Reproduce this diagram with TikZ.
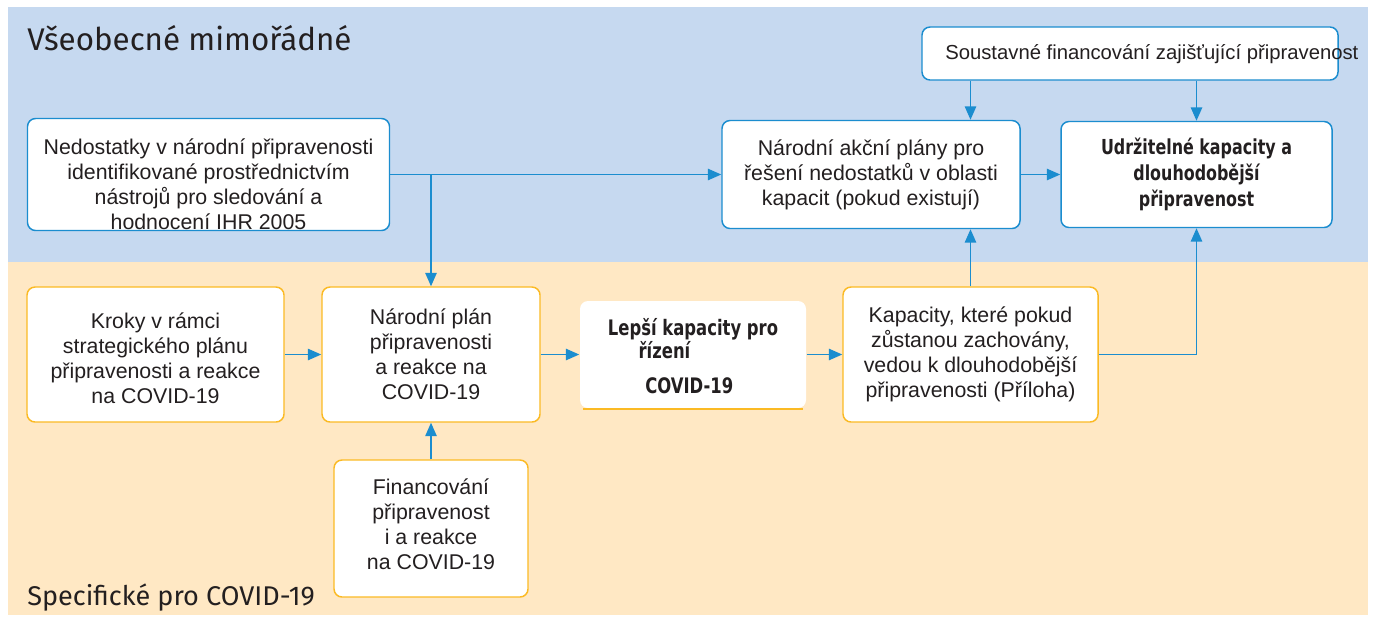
\documentclass[tikz,border=0pt]{standalone}
\usepackage{fontspec}
\setmainfont{Liberation Sans}
\newfontfamily\headfont{Fira Sans}
\newfontfamily\strongfont{DejaVu Sans}[FakeStretch=0.77]
\usetikzlibrary{arrows.meta}
\definecolor{BandBlue}{RGB}{198,217,240}
\definecolor{BandOrange}{RGB}{255,232,196}
\definecolor{LineBlue}{RGB}{27,141,207}
\definecolor{BoxOrange}{RGB}{251,186,36}
\definecolor{TextGray}{RGB}{35,31,32}

\begin{document}
\begin{tikzpicture}[x=0.75pt,y=0.75pt,yscale=-1,xscale=1,
	every node/.style={text=TextGray},
	bluebox/.style={draw=LineBlue, line width=1.1pt, fill=white, rounded corners=6pt, align=center, inner sep=0pt, font=\fontsize{16}{18.75}\selectfont},
	orangebox/.style={bluebox, draw=BoxOrange},
	conn/.style={draw=LineBlue, line width=1.1pt, -{Triangle[length=10pt,width=8.5pt]}}]
		\useasboundingbox (0,0) rectangle (1376,622);

		% Draw the two background bands
		\fill[BandBlue] (8,7) rectangle (1368,262);
		\fill[BandOrange] (8,262) rectangle (1368,615);

		% Band titles
		\node[anchor=base west, inner sep=0pt, font=\headfont\fontsize{23.5}{28}\selectfont] (genttl) at (27,50) {Všeobecné mimořádné};
		\node[anchor=base west, inner sep=0pt, font=\headfont\fontsize{20.3}{24}\selectfont] (covttl) at (27,605) {Specifické pro COVID-19};

		% Boxes of the upper (blue) band
		\node[bluebox, minimum width=271.5pt, minimum height=84pt] (gaps) at (208.5,174.5) {\rule{0pt}{26pt}Nedostatky v národní připravenosti\\identifikované prostřednictvím\\nástrojů pro sledování a\\hodnocení IHR 2005};
		\node[bluebox, minimum width=312pt, minimum height=39.75pt] (sust) at (1130,53.5) {};
		\node[anchor=west, inner sep=0pt, font=\fontsize{15.2}{18.75}\selectfont] (susttxt) at (945,54) {Soustavné financování zajišťující připravenost};
		\node[bluebox, minimum width=223.5pt, minimum height=81pt] (akcni) at (871,174.5) {Národní akční plány pro\\řešení nedostatků v oblasti\\kapacit (pokud existují)};
		\node[bluebox, minimum width=203.25pt, minimum height=79.5pt, font=\strongfont\bfseries\fontsize{15.5}{19.5}\selectfont] (udrz) at (1196.5,174.5) {Udržitelné kapacity a\\dlouhodobější\\připravenost};

		% Boxes of the lower (orange) band
		\node[orangebox, minimum width=192.75pt, minimum height=101.25pt] (kroky) at (155.5,354.5) {\rule{0pt}{17pt}Kroky v rámci\\strategického plánu\\připravenosti a reakce\\na COVID-19};
		\node[orangebox, minimum width=163.5pt, minimum height=101.25pt] (plan) at (431,354.5) {Národní plán\\připravenosti\\a reakce na\\COVID-19};
		\node[bluebox, draw=none, minimum width=169.5pt, minimum height=80.25pt, align=left, font=\strongfont\bfseries\fontsize{16}{17.25}\selectfont] (lepsi) at (693,354.5) {\rule{0pt}{15pt}Lepší kapacity pro\\\hspace*{23pt}řízení\\[9pt]\hspace*{28pt}COVID-19};
		\draw[BoxOrange, line width=1.3pt] ([xshift=3pt]lepsi.south west) -- ([xshift=-3pt]lepsi.south east);
		\node[orangebox, minimum width=191.25pt, minimum height=101.25pt] (kapac) at (970.5,354.5) {Kapacity, které pokud\\zůstanou zachovány,\\vedou k dlouhodobější\\připravenosti (Příloha)};
		\node[orangebox, minimum width=145.5pt, minimum height=102.75pt] (fin) at (431,528.5) {Financování\\připravenost\\i a reakce\\na COVID-19\rule[-7pt]{0pt}{0pt}};

		% Connectors in the upper band
		\draw[conn] (gaps.east) -- (akcni.west);
		\draw[conn] (gaps.east -| plan.north) -- (plan.north);
		\draw[conn] (sust.south -| kapac.north) -- (akcni.north -| kapac.north);
		\draw[conn] (sust.south -| udrz.north) -- (udrz.north);
		\draw[conn] (akcni.east) -- (udrz.west);

		% Connectors in the lower band
		\draw[conn] (kroky.east) -- (plan.west);
		\draw[conn] (plan.east) -- (lepsi.west);
		\draw[conn] (lepsi.east) -- (kapac.west);
		\draw[conn] (fin.north) -- (plan.south);
		\draw[conn] (kapac.north) -- (akcni.south -| kapac.north);
		\draw[conn] (kapac.east) -| (udrz.south);
	\end{tikzpicture}
\end{document}
